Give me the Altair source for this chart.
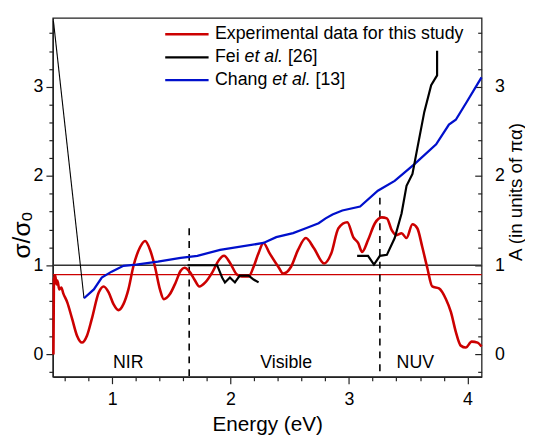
import altair as alt
import pandas as pd

# ---------------- data ----------------
red_x = [0.505, 0.509, 0.521, 0.530, 0.538, 0.555, 0.571, 0.588, 0.621, 0.663, 0.704, 0.746,
         0.788, 0.829, 0.888, 0.929, 0.971, 1.012, 1.054, 1.096, 1.138, 1.179, 1.237, 1.279,
         1.321, 1.362, 1.404, 1.437, 1.487, 1.537, 1.579, 1.612, 1.654, 1.695, 1.737, 1.787,
         1.845, 1.904, 1.945, 1.995, 2.054, 2.095, 2.153, 2.195, 2.237, 2.278, 2.328, 2.403,
         2.445, 2.511, 2.570, 2.636, 2.703, 2.790, 2.850, 2.911, 2.986, 3.036, 3.077, 3.111,
         3.161, 3.219, 3.277, 3.320, 3.361, 3.402, 3.444, 3.486, 3.536, 3.577, 3.619, 3.661,
         3.703, 3.760, 3.819, 3.861, 3.902, 3.944, 3.986, 4.036, 4.086, 4.119]
red_y = [0.0, 0.84, 0.884, 0.785, 0.829, 0.729, 0.751, 0.685, 0.586, 0.398, 0.210, 0.133,
         0.210, 0.398, 0.696, 0.762, 0.696, 0.564, 0.497, 0.564, 0.729, 0.983, 1.204, 1.271,
         1.171, 0.983, 0.729, 0.619, 0.674, 0.807, 0.939, 0.972, 0.928, 0.840, 0.762, 0.807,
         0.917, 1.061, 1.105, 1.028, 0.895, 0.873, 0.873, 0.983, 1.138, 1.249, 1.138, 0.983,
         0.906, 0.983, 1.171, 1.304, 1.193, 1.020, 1.130, 1.414, 1.481, 1.315, 1.249, 1.149,
         1.282, 1.470, 1.536, 1.525, 1.392, 1.337, 1.359, 1.304, 1.459, 1.414, 1.204, 0.972,
         0.762, 0.740, 0.619, 0.475, 0.254, 0.099, 0.077, 0.144, 0.133, 0.088]

chang_x = [0.763, 0.846, 0.913, 0.996, 1.096, 1.204, 1.387, 1.579, 1.720, 1.912, 2.278, 2.386,
           2.528, 2.636, 2.744, 2.803, 2.861, 2.944, 3.094, 3.244, 3.386, 3.553, 3.736, 3.844,
           3.902, 3.994, 4.119]
chang_y = [0.630, 0.729, 0.862, 0.928, 0.994, 1.006, 1.039, 1.083, 1.105, 1.171, 1.249, 1.315,
           1.359, 1.414, 1.470, 1.525, 1.569, 1.613, 1.657, 1.834, 1.945, 2.133, 2.354, 2.575,
           2.630, 2.829, 3.105]

fei_vis_x = [1.637, 1.887, 1.929, 1.953, 1.995, 2.037, 2.078, 2.153, 2.195, 2.237]
fei_vis_y = [1.0, 1.0, 0.862, 0.807, 0.862, 0.807, 0.884, 0.884, 0.840, 0.807]
fei_uv_x = [3.069, 3.161, 3.211, 3.261, 3.320, 3.386, 3.444, 3.486, 3.536, 3.577, 3.636,
            3.694, 3.744, 3.744]
fei_uv_y = [1.105, 1.105, 1.006, 1.105, 1.116, 1.304, 1.580, 1.890, 2.022, 2.309, 2.718,
            3.017, 3.127, 3.403]

guide_x = [0.505, 0.763]
guide_y = [3.735, 0.630]

sigma_ref = [1.0]
exp_ref = [0.895]

boundary_x = [1.651, 3.261]
boundary_top = [1.414, 1.757]

region_names = ["NIR", "Visible", "NUV"]
region_x = [1.137, 2.47, 3.56]
region_y = [-0.10, -0.10, -0.10]

legend_labels = ["Experimental data for this study", "Fei", "et al.", "[26]",
                 "Chang", "et al.", "[13]"]

x_domain = [0.5, 4.12]
y_domain = [-0.25, 3.77]

# ---------------- styling ----------------
W, H = 435, 364
FONT = "Liberation Sans"
RED = "#cc0000"
BLUE = "#0010cc"
AXC = "#222222"

int_test = "abs(datum.value - round(datum.value)) < 0.001"
tick_size = {"condition": {"test": int_test, "value": 7}, "value": 4}
label_expr = int_test + " ? format(datum.value, '.0f') : ''"
x_ticks = [round(0.6 + 0.2 * i, 1) for i in range(18)]
y_ticks = [round(-0.2 + 0.2 * i, 1) for i in range(20)]

xs = alt.Scale(domain=x_domain, nice=False, zero=False)

x_axis = alt.Axis(values=x_ticks, labelExpr=label_expr, tickSize=tick_size,
                  title="Energy (eV)", labelFontSize=18, titleFontSize=21,
                  labelPadding=7, titlePadding=6, labelOverlap=False, labelFlush=False)

y_axis_left = alt.Axis(orient="left", values=y_ticks, labelExpr=label_expr,
                       tickSize=tick_size, title="σ/σₒ", titleFontSize=25,
                       labelFontSize=18, labelPadding=3, titleAngle=270, titleX=-19,
                       titleY=220, titleBaseline="bottom", titleAlign="center",
                       labelOverlap=False)

y_axis_right = alt.Axis(orient="right", values=[0, 1, 2, 3], ticks=False, tickSize=0,
                        domain=False, labelPadding=13, labelFontSize=18,
                        title="A (in units of πα)", titleFontSize=19, titleAngle=270,
                        titleX=40, titleY=176, titleBaseline="alphabetic",
                        titleAlign="center", labelOverlap=False)

y_axis_inner = alt.Axis(orient="left", offset=-W, values=y_ticks, labels=False,
                        domain=False, tickSize=tick_size, title="")


def xa(f):
    return alt.X(f, type="quantitative", scale=xs, axis=x_axis)


def yscale():
    return alt.Scale(domain=y_domain, nice=False, zero=False)


def ya(f):
    return alt.Y(f, type="quantitative", scale=yscale(), axis=y_axis_left)


def yb(f):
    return alt.Y(f, type="quantitative", scale=yscale(), axis=y_axis_right)


def yc(f):
    return alt.Y(f, type="quantitative", scale=yscale(), axis=y_axis_inner)


# ---------------- layer C: reference line at 1 + inward right ticks ----------------
layer_c = alt.Chart(pd.DataFrame({"y": sigma_ref})).mark_rule(
    color="#333333", strokeWidth=1.6).encode(y=yc("y"))

# ---------------- layer A: experimental data (left axis) ----------------
exp_line_ref = alt.Chart(pd.DataFrame({"y": exp_ref})).mark_rule(
    color=RED, strokeWidth=1.2).encode(y=ya("y"))

bdf = pd.DataFrame({"x": boundary_x, "y": boundary_top, "ybot": [y_domain[0]] * len(boundary_x)})
boundaries = alt.Chart(bdf).mark_rule(color="black", strokeWidth=1.6, strokeDash=[7, 6]).encode(
    x=xa("x"), y=ya("y"), y2=alt.Y2("ybot"))

red_line = alt.Chart(pd.DataFrame({"x": red_x, "y": red_y})).mark_line(
    color=RED, strokeWidth=2.6, interpolate="monotone").encode(x=xa("x"), y=ya("y"))

regions = alt.Chart(pd.DataFrame({"x": region_x, "y": region_y, "t": region_names})).mark_text(
    font=FONT, fontSize=18, color="black", baseline="middle", align="center").encode(
    x=xa("x"), y=ya("y"), text="t:N")

legend_layers = []
leg_lines = [(RED, 16.5), ("black", 40), (BLUE, 63)]
for col, yy in leg_lines:
    legend_layers.append(
        alt.Chart(pd.DataFrame({"k": [0]})).mark_rule(color=col, strokeWidth=2.4).encode(
            x=alt.value(114), x2=alt.value(158), y=alt.value(yy)))
leg_pos = [(164.5, 16.5, "normal"), (164.5, 40, "normal"), (194.5, 40, "italic"),
           (238.5, 40, "normal"), (164.5, 63, "normal"), (222.5, 63, "italic"),
           (266.5, 63, "normal")]
for lab, (px, py, st) in zip(legend_labels, leg_pos):
    legend_layers.append(
        alt.Chart(pd.DataFrame({"t": [lab]})).mark_text(
            font=FONT, fontSize=18, fontStyle=st, color="black", align="left",
            baseline="middle").encode(x=alt.value(px), y=alt.value(py), text="t:N"))

layer_a = alt.layer(exp_line_ref, boundaries, red_line, regions, *legend_layers)

# ---------------- layer B: literature curves (right axis) ----------------
guide = alt.Chart(pd.DataFrame({"x": guide_x, "y": guide_y})).mark_line(
    color="black", strokeWidth=1.1).encode(x=xa("x"), y=yb("y"))
chang = alt.Chart(pd.DataFrame({"x": chang_x, "y": chang_y})).mark_line(
    color=BLUE, strokeWidth=2.3).encode(x=xa("x"), y=yb("y"))
fei_df = pd.DataFrame({
    "x": fei_vis_x + fei_uv_x,
    "y": fei_vis_y + fei_uv_y,
    "seg": ["vis"] * len(fei_vis_x) + ["uv"] * len(fei_uv_x),
    "i": list(range(len(fei_vis_x) + len(fei_uv_x))),
})
fei = alt.Chart(fei_df).mark_line(color="black", strokeWidth=2.2).encode(
    x=xa("x"), y=yb("y"), detail="seg:N", order="i:Q")

layer_b = alt.layer(guide, chang, fei)

chart = alt.layer(layer_c, layer_a, layer_b).resolve_scale(y="independent").properties(
    width=W, height=H,
    autosize=alt.AutoSizeParams(type="none"),
    padding={"left": 45.5, "top": 7, "right": 44, "bottom": 60},
).configure_view(stroke=AXC, strokeWidth=1.3).configure_axis(
    labelFont=FONT, titleFont=FONT, labelColor="black", titleColor="black",
    titleFontWeight="normal", domainColor=AXC, tickColor=AXC, tickWidth=1.2,
    domainWidth=1.3, grid=False)

chart.save("out.html", embed_options={"renderer": "svg", "actions": False})
